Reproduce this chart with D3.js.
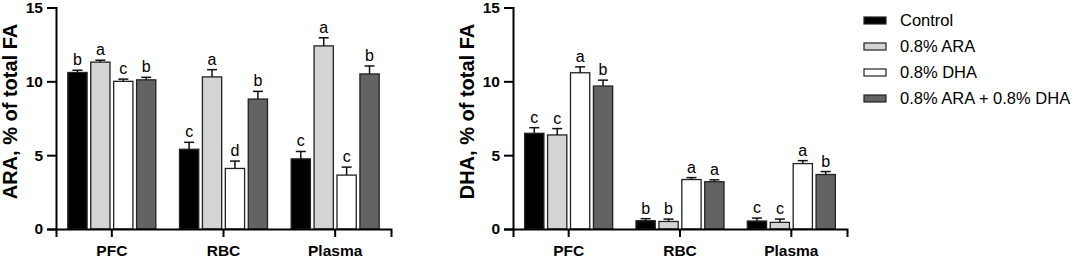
<!DOCTYPE html>
<html>
<head>
<meta charset="utf-8">
<script src="https://cdn.jsdelivr.net/npm/d3@7"></script>
<style>
  body { margin: 0; background: #fff; }
  svg text { font-family: "Liberation Sans", Arial, sans-serif; }
</style>
</head>
<body>
<div id="chart"></div>
<script>
// categories + series
var tissues = ["PFC", "RBC", "Plasma"]
var groups = ["Control", "0.8% ARA", "0.8% DHA", "0.8% ARA + 0.8% DHA"]
var groupColors = ["#000000", "#d4d4d4", "#ffffff", "#636363"]
var yTicks = [0, 5, 10, 15]

// ARA panel, rows = tissue, cols = group
var araMean = [[10.6, 11.3, 10.0, 10.1], [5.4, 10.3, 4.1, 8.8], [4.75, 12.4, 3.65, 10.5]]
var araErr = [[0.15, 0.13, 0.15, 0.17], [0.47, 0.49, 0.5, 0.52], [0.5, 0.55, 0.54, 0.54]]
var araLetters = [["b", "a", "c", "b"], ["c", "a", "d", "b"], ["c", "a", "c", "b"]]

// DHA panel
var dhaMean = [[6.48, 6.37, 10.58, 9.68], [0.56, 0.51, 3.35, 3.2], [0.54, 0.45, 4.43, 3.69]]
var dhaErr = [[0.38, 0.43, 0.4, 0.4], [0.14, 0.16, 0.13, 0.13], [0.2, 0.22, 0.2, 0.2]]
var dhaLetters = [["c", "c", "a", "b"], ["b", "b", "a", "a"], ["c", "c", "a", "b"]]

var svg = d3.select("#chart").append("svg")
  .attr("width", 1074)
  .attr("height", 259)

// one panel
function drawPanel(left, right, title, means, errs, letters) {
  var g = svg.append("g")

  var y = d3.scaleLinear().domain([0, 15]).range([229, 7.5])
  var x = d3.scaleBand().domain(tissues).range([left, right]).padding(0)
  var xInner = d3.scaleBand().domain(groups).range([-44, 44]).paddingInner(0.16)

  var rows = []
  tissues.forEach(function(t, i) {
    groups.forEach(function(gname, j) {
      rows.push({tissue: t, group: gname, idx: j, mean: means[i][j], err: errs[i][j], letter: letters[i][j]})
    })
  })

  var bx = function(d) { return x(d.tissue) + x.bandwidth() / 2 + xInner(d.group) }
  var bw = xInner.bandwidth()

  // bars
  g.selectAll("rect.bar")
    .data(rows)
    .enter()
    .append("rect")
    .attr("class", "bar")
    .attr("x", bx)
    .attr("y", function(d) { return y(d.mean) })
    .attr("width", bw)
    .attr("height", function(d) { return y(0) - y(d.mean) })
    .style("fill", function(d) { return groupColors[d.idx] })
    .style("stroke", "#222")
    .style("stroke-width", 1.3)

  // error bars (upper only)
  var eb = g.selectAll("g.err").data(rows).enter().append("g")
    .style("stroke", "#111").style("stroke-width", 1.5)
  eb.append("line")
    .attr("x1", function(d) { return bx(d) + bw / 2 })
    .attr("x2", function(d) { return bx(d) + bw / 2 })
    .attr("y1", function(d) { return y(d.mean) })
    .attr("y2", function(d) { return y(d.mean + d.err) })
  eb.append("line")
    .attr("x1", function(d) { return bx(d) + bw / 2 - 5 })
    .attr("x2", function(d) { return bx(d) + bw / 2 + 5 })
    .attr("y1", function(d) { return y(d.mean + d.err) })
    .attr("y2", function(d) { return y(d.mean + d.err) })

  // significance letters
  g.selectAll("text.letter")
    .data(rows)
    .enter()
    .append("text")
    .attr("x", function(d) { return bx(d) + bw / 2 })
    .attr("y", function(d) { return y(d.mean + d.err) - 5 })
    .attr("text-anchor", "middle")
    .style("font-size", "16px")
    .text(function(d) { return d.letter })

  // y axis
  var yAxis = g.append("g")
    .attr("transform", "translate(" + left + ",0)")
    .call(d3.axisLeft(y).tickValues(yTicks).tickSize(9).tickPadding(4))
  yAxis.select(".domain").attr("stroke-width", 2)
  yAxis.selectAll(".tick line").attr("stroke-width", 2)
  yAxis.selectAll("text")
    .style("font-size", "15.5px")
    .style("font-weight", "bold")
    .style("font-family", "'Liberation Sans', Arial, sans-serif")
    .attr("fill", "#000")

  // x axis
  var xAxis = g.append("g")
    .attr("transform", "translate(0," + y(0) + ")")
    .call(d3.axisBottom(x).tickSizeOuter(0).tickSize(8).tickPadding(8))
  xAxis.select(".domain").attr("stroke-width", 2)
  xAxis.selectAll(".tick line").attr("stroke-width", 2)
  xAxis.selectAll("text")
    .style("font-size", "15.5px")
    .style("font-weight", "bold")
    .style("font-family", "'Liberation Sans', Arial, sans-serif")
    .attr("fill", "#000")

  // axis title
  g.append("text")
    .attr("transform", "translate(" + (left - 39) + "," + 111.5 + ") rotate(-90)")
    .attr("text-anchor", "middle")
    .style("font-size", "20px")
    .style("font-weight", "bold")
    .text(title)
}

drawPanel(56, 391, "ARA, % of total FA", araMean, araErr, araLetters)
drawPanel(513, 847, "DHA, % of total FA", dhaMean, dhaErr, dhaLetters)

// Legend
var legend = svg.append("g").attr("transform", "translate(864,0)")
var items = legend.selectAll("g")
  .data(groups)
  .enter()
  .append("g")
  .attr("transform", function(d, i) { return "translate(0," + (20.5 + i * 26) + ")" })

items.append("rect")
  .attr("x", 0)
  .attr("y", -3.5)
  .attr("width", 22)
  .attr("height", 7)
  .style("fill", function(d, i) { return groupColors[i] })
  .style("stroke", "#222")
  .style("stroke-width", 1.2)

items.append("text")
  .attr("x", 36)
  .attr("dy", "0.35em")
  .style("font-size", "16.5px")
  .text(function(d) { return d })
</script>
</body>
</html>
